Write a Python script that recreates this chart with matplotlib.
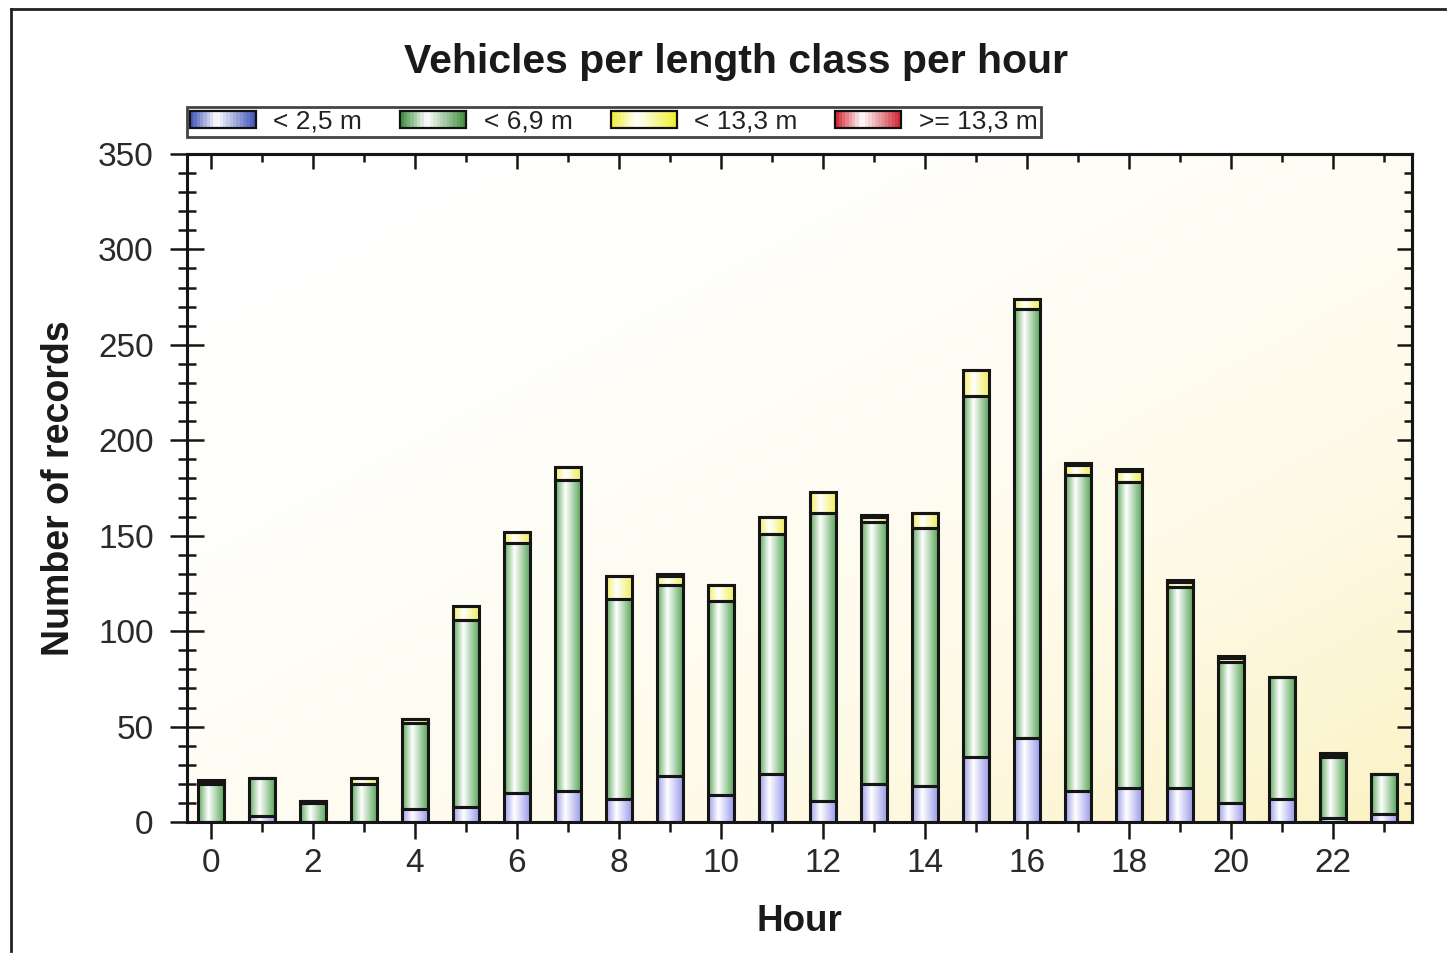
import numpy as np
import matplotlib
matplotlib.use("Agg")
import matplotlib.pyplot as plt
from matplotlib.colors import LinearSegmentedColormap
from matplotlib.patches import Rectangle
from matplotlib.legend_handler import HandlerBase
from matplotlib.lines import Line2D
from matplotlib.ticker import MultipleLocator

plt.rcParams['font.family'] = ['Liberation Sans', 'DejaVu Sans']

# data
hours = list(range(24))
lt_2_5 = [0, 3, 0, 0, 7, 8, 15, 16, 12, 24, 14, 25, 11, 20, 19, 34, 44, 16, 18, 18, 10, 12, 2, 4]
lt_6_9 = [20, 20, 10, 20, 45, 98, 131, 163, 105, 100, 102, 126, 151, 137, 135, 189, 225, 166, 160, 105, 74, 64, 32, 21]
lt_13_3 = [1, 0, 1, 3, 2, 7, 6, 7, 12, 5, 8, 9, 11, 3, 8, 14, 5, 5, 6, 3, 2, 0, 1, 0]
ge_13_3 = [1, 0, 0, 0, 0, 0, 0, 0, 0, 1, 0, 0, 0, 1, 0, 0, 0, 1, 1, 1, 1, 0, 1, 0]

series = [lt_2_5, lt_6_9, lt_13_3, ge_13_3]
labels = ['< 2,5 m', '< 6,9 m', '< 13,3 m', '>= 13,3 m']
# edge colour of the bars / colour of the legend swatches
bar_cols = ['#9c9cec', '#5ea85e', '#f2ee60', '#e04050']
leg_cols = ['#3c4fb4', '#3a8c3a', '#eeee30', '#d0202e']

bar_w = 0.5


def grad_cmap(c):
    return LinearSegmentedColormap.from_list('g', [(0, c), (0.4, 'white'), (1, c)])


class GradHandler(HandlerBase):
    def __init__(self, color):
        super().__init__()
        self.color = color

    def create_artists(self, legend, orig_handle, xdescent, ydescent, width, height, fontsize, trans):
        cm = grad_cmap(self.color)
        n = 20
        arts = []
        for i in range(n):
            r = Rectangle((-xdescent + width * i / n, -ydescent), width / n + 0.3, height,
                          facecolor=cm((i + 0.5) / n), edgecolor='none', transform=trans)
            arts.append(r)
        arts.append(Rectangle((-xdescent, -ydescent), width, height, facecolor='none',
                              edgecolor='#111111', lw=1.6, transform=trans))
        return arts


fig = plt.figure(figsize=(14.53, 9.61), dpi=100)
ax = fig.add_axes([0.1287, 0.1446, 0.9718 - 0.1287, 0.8398 - 0.1446])

# background: white to the left, pale yellow toward the bottom right
gx, gy = np.meshgrid(np.linspace(0, 1, 200), np.linspace(0, 1, 200))
g = ((gx + gy) / 2) ** 1.8
bg = LinearSegmentedColormap.from_list('bg', ['#ffffff', '#fefbea', '#fbf2c4'])
ax.imshow(g, cmap=bg, extent=[0, 1, 0, 1], transform=ax.transAxes, aspect='auto',
          origin='upper', zorder=0, interpolation='bilinear')

bottom = np.zeros(len(hours))
strip = np.linspace(0, 1, 64).reshape(1, -1)
for vals, col in zip(series, bar_cols):
    vals = np.array(vals, dtype=float)
    cm = grad_cmap(col)
    for h, b, v in zip(hours, bottom, vals):
        if v > 0:
            ax.imshow(strip, cmap=cm, extent=[h - bar_w / 2, h + bar_w / 2, b, b + v],
                      aspect='auto', zorder=2, interpolation='bilinear')
    ax.bar(hours, vals, bottom=bottom, width=bar_w, fill=False, edgecolor='#151515',
           linewidth=2.2, zorder=3)
    bottom += vals

ax.set_xlim(-0.47, 23.55)
ax.set_ylim(0, 350)

ax.xaxis.set_major_locator(MultipleLocator(2))
ax.xaxis.set_minor_locator(MultipleLocator(1))
ax.yaxis.set_major_locator(MultipleLocator(50))
ax.yaxis.set_minor_locator(MultipleLocator(10))

for s in ax.spines.values():
    s.set_linewidth(2.2)
    s.set_color('#151515')

ax.tick_params(axis='both', which='both', colors='#151515', labelcolor='#2a2a2a', width=1.8)
ax.tick_params(axis='x', which='major', direction='inout', length=24, pad=7, labelsize=24,
               top=False)
ax.tick_params(axis='x', which='minor', direction='out', length=7, top=False)
ax.tick_params(axis='y', which='major', direction='inout', length=24, pad=12, labelsize=24,
               right=False)
ax.tick_params(axis='y', which='minor', direction='inout', length=13, right=False)

# top and right ticks point inward
axt = ax.secondary_xaxis('top')
axt.xaxis.set_major_locator(MultipleLocator(2))
axt.xaxis.set_minor_locator(MultipleLocator(1))
axt.tick_params(which='major', direction='in', length=11, width=1.8, labeltop=False, colors='#151515')
axt.tick_params(which='minor', direction='in', length=6, width=1.8, colors='#151515')
axt.spines['top'].set_linewidth(2.2)
axr = ax.secondary_yaxis('right')
axr.yaxis.set_major_locator(MultipleLocator(50))
axr.yaxis.set_minor_locator(MultipleLocator(10))
axr.tick_params(which='major', direction='in', length=11, width=1.8, labelright=False, colors='#151515')
axr.tick_params(which='minor', direction='in', length=6, width=1.8, colors='#151515')
axr.spines['right'].set_linewidth(2.2)

ax.set_xlabel('Hour', fontsize=26.5, fontweight='bold', labelpad=18, color='#1a1a1a')
ax.set_ylabel('Number of records', fontsize=27, fontweight='bold', labelpad=15, color='#1a1a1a')
fig.text(0.5065, 0.935, 'Vehicles per length class per hour', ha='center', va='center',
         fontsize=29.5, fontweight='bold', color='#1a1a1a')

handles = [Line2D([], []) for _ in labels]
leg = fig.legend(handles, labels, loc='upper left', bbox_to_anchor=(0.1287, 0.889),
                 ncol=4, fontsize=19, frameon=True, fancybox=False,
                 handlelength=2.5, handleheight=0.6, handletextpad=0.65,
                 columnspacing=1.45, borderpad=0.12, borderaxespad=0,
                 handler_map={h: GradHandler(c) for h, c in zip(handles, leg_cols)})
leg.get_frame().set_edgecolor('#151515')
leg.get_frame().set_linewidth(2.0)
for t in leg.get_texts():
    t.set_color('#222222')

# outer frame of the original picture
fig.add_artist(Line2D([0.0076, 0.0076], [0.01, 0.9906], color='#222222', lw=2.0))
fig.add_artist(Line2D([0.0076, 0.9945], [0.9906, 0.9906], color='#222222', lw=2.0))

fig.savefig('out.png', dpi=100)
